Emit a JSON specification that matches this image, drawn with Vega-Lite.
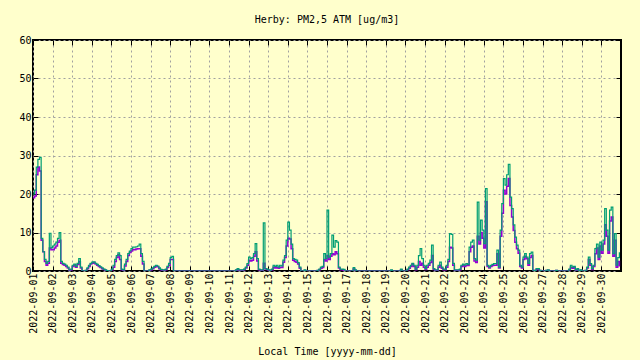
{
  "$schema": "https://vega.github.io/schema/vega-lite/v6.json",
  "width": 588,
  "height": 231,
  "autosize": "none",
  "padding": {"left": 33, "top": 40, "right": 19, "bottom": 89},
  "background": "#ffffcc",
  "config": {
    "font": "DejaVu Sans Mono",
    "view": {"stroke": "black", "strokeWidth": 2, "fill": "#ffffcc"},
    "axis": {
      "labelFont": "DejaVu Sans Mono", "labelFontSize": 10, "labelColor": "black",
      "titleFont": "DejaVu Sans Mono", "titleFontSize": 10, "titleFontWeight": "normal", "titleColor": "black",
      "domain": false, "tickColor": "black", "tickSize": -5, "tickWidth": 1,
      "gridColor": "#a0a0a0", "gridDash": [2, 3], "gridOpacity": 1, "gridWidth": 1
    }
  },
  "title": {"text": "Herby: PM2,5 ATM [ug/m3]", "fontSize": 10, "fontWeight": "normal", "color": "black", "font": "DejaVu Sans Mono", "anchor": "middle", "offset": 10},
  "data": {
    "format": {"parse": {"t": "utc:'%Y-%m-%d %H'"}},
    "values": [
{"t":"2022-09-01 00","a":19,"b":20},{"t":"2022-09-01 02","a":19.5,"b":21},{"t":"2022-09-01 04","a":25,"b":27},{"t":"2022-09-01 06","a":27,"b":29},{"t":"2022-09-01 08","a":26,"b":29.5},{"t":"2022-09-01 10","a":8,"b":8.5},{"t":"2022-09-01 12","a":5,"b":5},{"t":"2022-09-01 14","a":2.5,"b":3},{"t":"2022-09-01 16","a":1.5,"b":2},{"t":"2022-09-01 18","a":2,"b":2.5},{"t":"2022-09-01 20","a":6,"b":9.8},{"t":"2022-09-01 22","a":5.5,"b":6},
{"t":"2022-09-02 00","a":5.5,"b":6.5},{"t":"2022-09-02 02","a":6,"b":7},{"t":"2022-09-02 04","a":6.5,"b":7.5},{"t":"2022-09-02 06","a":7.5,"b":8.5},{"t":"2022-09-02 08","a":8,"b":10},{"t":"2022-09-02 10","a":2,"b":2.5},{"t":"2022-09-02 12","a":1.7,"b":2},{"t":"2022-09-02 14","a":1.5,"b":1.8},{"t":"2022-09-02 16","a":1.2,"b":1.5},{"t":"2022-09-02 18","a":0.8,"b":1},{"t":"2022-09-02 20","a":0.2,"b":0.3},{"t":"2022-09-02 22","a":0.3,"b":0.5},
{"t":"2022-09-03 00","a":1.2,"b":1.5},{"t":"2022-09-03 02","a":1.5,"b":1.8},{"t":"2022-09-03 04","a":1,"b":1.2},{"t":"2022-09-03 06","a":1.7,"b":2},{"t":"2022-09-03 08","a":2.5,"b":3.2},{"t":"2022-09-03 10","a":0.8,"b":1},{"t":"2022-09-03 12","a":0,"b":0},{"t":"2022-09-03 14","a":0,"b":0},{"t":"2022-09-03 16","a":0.1,"b":0.2},{"t":"2022-09-03 18","a":0.6,"b":0.8},{"t":"2022-09-03 20","a":1.2,"b":1.5},{"t":"2022-09-03 22","a":1.8,"b":2},
{"t":"2022-09-04 00","a":2,"b":2.3},{"t":"2022-09-04 02","a":2.2,"b":2.4},{"t":"2022-09-04 04","a":1.8,"b":2},{"t":"2022-09-04 06","a":1.5,"b":1.7},{"t":"2022-09-04 08","a":1.2,"b":1.4},{"t":"2022-09-04 10","a":0.9,"b":1.1},{"t":"2022-09-04 12","a":0.6,"b":0.8},{"t":"2022-09-04 14","a":0.4,"b":0.5},{"t":"2022-09-04 16","a":0.2,"b":0.3},{"t":"2022-09-04 18","a":0,"b":0.1},{"t":"2022-09-04 20","a":0,"b":0},{"t":"2022-09-04 22","a":0,"b":0},
{"t":"2022-09-05 00","a":0.3,"b":0.5},{"t":"2022-09-05 02","a":1,"b":1.5},{"t":"2022-09-05 04","a":2.5,"b":3},{"t":"2022-09-05 06","a":3.5,"b":4},{"t":"2022-09-05 08","a":4.2,"b":4.7},{"t":"2022-09-05 10","a":3,"b":4},{"t":"2022-09-05 12","a":0.3,"b":0.5},{"t":"2022-09-05 14","a":0.2,"b":0.3},{"t":"2022-09-05 16","a":1.3,"b":1.8},{"t":"2022-09-05 18","a":2.5,"b":3},{"t":"2022-09-05 20","a":4,"b":4.5},{"t":"2022-09-05 22","a":4.8,"b":5.2},
{"t":"2022-09-06 00","a":5.2,"b":5.8},{"t":"2022-09-06 02","a":5.6,"b":6.2},{"t":"2022-09-06 04","a":5.5,"b":6.2},{"t":"2022-09-06 06","a":5.7,"b":6.3},{"t":"2022-09-06 08","a":5.8,"b":6.5},{"t":"2022-09-06 10","a":5.8,"b":7},{"t":"2022-09-06 12","a":3.8,"b":4.5},{"t":"2022-09-06 14","a":1.8,"b":2.5},{"t":"2022-09-06 16","a":0,"b":0},{"t":"2022-09-06 18","a":0,"b":0},{"t":"2022-09-06 20","a":0,"b":0},{"t":"2022-09-06 22","a":0.2,"b":0.3},
{"t":"2022-09-07 00","a":0.3,"b":0.5},{"t":"2022-09-07 02","a":0.6,"b":0.8},{"t":"2022-09-07 04","a":1,"b":1.2},{"t":"2022-09-07 06","a":1.3,"b":1.5},{"t":"2022-09-07 08","a":1.1,"b":1.3},{"t":"2022-09-07 10","a":0.6,"b":0.8},{"t":"2022-09-07 12","a":0.3,"b":0.4},{"t":"2022-09-07 14","a":0.2,"b":0.3},{"t":"2022-09-07 16","a":0.2,"b":0.3},{"t":"2022-09-07 18","a":0.3,"b":0.5},{"t":"2022-09-07 20","a":0.9,"b":1.2},{"t":"2022-09-07 22","a":1.5,"b":2},
{"t":"2022-09-08 00","a":3,"b":3.5},{"t":"2022-09-08 02","a":3,"b":3.8},{"t":"2022-09-08 04","a":0,"b":0},{"t":"2022-09-08 06","a":0,"b":0},{"t":"2022-09-08 08","a":0,"b":0},{"t":"2022-09-08 10","a":0,"b":0},{"t":"2022-09-08 12","a":0,"b":0},{"t":"2022-09-08 14","a":0,"b":0},{"t":"2022-09-08 16","a":0,"b":0},{"t":"2022-09-08 18","a":0,"b":0},{"t":"2022-09-08 20","a":0,"b":0},{"t":"2022-09-08 22","a":0,"b":0},
{"t":"2022-09-09 00","a":0,"b":0},{"t":"2022-09-09 02","a":0,"b":0},{"t":"2022-09-09 04","a":0,"b":0},{"t":"2022-09-09 06","a":0,"b":0},{"t":"2022-09-09 08","a":0,"b":0},{"t":"2022-09-09 10","a":0,"b":0},{"t":"2022-09-09 12","a":0,"b":0},{"t":"2022-09-09 14","a":0,"b":0},{"t":"2022-09-09 16","a":0,"b":0},{"t":"2022-09-09 18","a":0,"b":0},{"t":"2022-09-09 20","a":0,"b":0},{"t":"2022-09-09 22","a":0,"b":0},
{"t":"2022-09-10 00","a":0,"b":0},{"t":"2022-09-10 02","a":0,"b":0},{"t":"2022-09-10 04","a":0,"b":0},{"t":"2022-09-10 06","a":0,"b":0},{"t":"2022-09-10 08","a":0,"b":0},{"t":"2022-09-10 10","a":0,"b":0},{"t":"2022-09-10 12","a":0,"b":0},{"t":"2022-09-10 14","a":0,"b":0},{"t":"2022-09-10 16","a":0,"b":0},{"t":"2022-09-10 18","a":0,"b":0},{"t":"2022-09-10 20","a":0,"b":0},{"t":"2022-09-10 22","a":0,"b":0},
{"t":"2022-09-11 00","a":0,"b":0},{"t":"2022-09-11 02","a":0,"b":0},{"t":"2022-09-11 04","a":0,"b":0},{"t":"2022-09-11 06","a":0,"b":0},{"t":"2022-09-11 08","a":0.2,"b":0.3},{"t":"2022-09-11 10","a":0.4,"b":0.6},{"t":"2022-09-11 12","a":0.2,"b":0.3},{"t":"2022-09-11 14","a":0.2,"b":0.3},{"t":"2022-09-11 16","a":0.2,"b":0.3},{"t":"2022-09-11 18","a":0.4,"b":0.5},{"t":"2022-09-11 20","a":0.8,"b":1},{"t":"2022-09-11 22","a":1.5,"b":1.9},
{"t":"2022-09-12 00","a":2.8,"b":3.6},{"t":"2022-09-12 02","a":2.6,"b":3.2},{"t":"2022-09-12 04","a":2.8,"b":3.5},{"t":"2022-09-12 06","a":3.8,"b":4.5},{"t":"2022-09-12 08","a":5,"b":7.1},{"t":"2022-09-12 10","a":2.6,"b":3.2},{"t":"2022-09-12 12","a":0.3,"b":0.5},{"t":"2022-09-12 14","a":0.2,"b":0.3},{"t":"2022-09-12 16","a":0.2,"b":0.3},{"t":"2022-09-12 18","a":2,"b":12.5},{"t":"2022-09-12 20","a":0.5,"b":0.6},{"t":"2022-09-12 22","a":0.4,"b":0.5},
{"t":"2022-09-13 00","a":0.2,"b":0.3},{"t":"2022-09-13 02","a":0.1,"b":0.2},{"t":"2022-09-13 04","a":0.3,"b":0.5},{"t":"2022-09-13 06","a":1,"b":1.5},{"t":"2022-09-13 08","a":0.8,"b":1.2},{"t":"2022-09-13 10","a":1,"b":1.5},{"t":"2022-09-13 12","a":0.7,"b":1},{"t":"2022-09-13 14","a":1,"b":1.5},{"t":"2022-09-13 16","a":0.9,"b":1.3},{"t":"2022-09-13 18","a":2.3,"b":2.8},{"t":"2022-09-13 20","a":3.5,"b":4},{"t":"2022-09-13 22","a":6.5,"b":8},
{"t":"2022-09-14 00","a":8.5,"b":12.7},{"t":"2022-09-14 02","a":8.3,"b":10.6},{"t":"2022-09-14 04","a":5.8,"b":7},{"t":"2022-09-14 06","a":2.8,"b":3.2},{"t":"2022-09-14 08","a":2.5,"b":3},{"t":"2022-09-14 10","a":2.3,"b":2.8},{"t":"2022-09-14 12","a":1.8,"b":2.2},{"t":"2022-09-14 14","a":0.7,"b":1},{"t":"2022-09-14 16","a":0,"b":0},{"t":"2022-09-14 18","a":0,"b":0},{"t":"2022-09-14 20","a":0.1,"b":0.3},{"t":"2022-09-14 22","a":0,"b":0},
{"t":"2022-09-15 00","a":0,"b":0},{"t":"2022-09-15 02","a":0,"b":0},{"t":"2022-09-15 04","a":0,"b":0},{"t":"2022-09-15 06","a":0,"b":0},{"t":"2022-09-15 08","a":0,"b":0},{"t":"2022-09-15 10","a":0,"b":0},{"t":"2022-09-15 12","a":0.1,"b":0.2},{"t":"2022-09-15 14","a":0.3,"b":0.5},{"t":"2022-09-15 16","a":0.7,"b":1},{"t":"2022-09-15 18","a":0.9,"b":1.2},{"t":"2022-09-15 20","a":3,"b":4.5},{"t":"2022-09-15 22","a":2.6,"b":3.2},
{"t":"2022-09-16 00","a":4,"b":15.8},{"t":"2022-09-16 02","a":3,"b":3.6},{"t":"2022-09-16 04","a":3.8,"b":4.5},{"t":"2022-09-16 06","a":4.5,"b":9.3},{"t":"2022-09-16 08","a":4.2,"b":6.2},{"t":"2022-09-16 10","a":5,"b":7.9},{"t":"2022-09-16 12","a":4.5,"b":7.5},{"t":"2022-09-16 14","a":0.8,"b":1},{"t":"2022-09-16 16","a":0.3,"b":0.5},{"t":"2022-09-16 18","a":0.3,"b":0.5},{"t":"2022-09-16 20","a":0.2,"b":0.4},{"t":"2022-09-16 22","a":0,"b":0},
{"t":"2022-09-17 00","a":0,"b":0},{"t":"2022-09-17 02","a":0,"b":0},{"t":"2022-09-17 04","a":0,"b":0},{"t":"2022-09-17 06","a":0,"b":0},{"t":"2022-09-17 08","a":0.5,"b":0.9},{"t":"2022-09-17 10","a":0.1,"b":0.3},{"t":"2022-09-17 12","a":0,"b":0},{"t":"2022-09-17 14","a":0,"b":0},{"t":"2022-09-17 16","a":0,"b":0},{"t":"2022-09-17 18","a":0,"b":0},{"t":"2022-09-17 20","a":0,"b":0},{"t":"2022-09-17 22","a":0,"b":0},
{"t":"2022-09-18 00","a":0,"b":0},{"t":"2022-09-18 02","a":0,"b":0},{"t":"2022-09-18 04","a":0,"b":0},{"t":"2022-09-18 06","a":0,"b":0},{"t":"2022-09-18 08","a":0,"b":0},{"t":"2022-09-18 10","a":0,"b":0},{"t":"2022-09-18 12","a":0,"b":0},{"t":"2022-09-18 14","a":0,"b":0},{"t":"2022-09-18 16","a":0,"b":0},{"t":"2022-09-18 18","a":0,"b":0},{"t":"2022-09-18 20","a":0,"b":0},{"t":"2022-09-18 22","a":0,"b":0},
{"t":"2022-09-19 00","a":0,"b":0},{"t":"2022-09-19 02","a":0,"b":0},{"t":"2022-09-19 04","a":0,"b":0},{"t":"2022-09-19 06","a":0.1,"b":0.3},{"t":"2022-09-19 08","a":0,"b":0},{"t":"2022-09-19 10","a":0,"b":0},{"t":"2022-09-19 12","a":0,"b":0},{"t":"2022-09-19 14","a":0,"b":0},{"t":"2022-09-19 16","a":0,"b":0},{"t":"2022-09-19 18","a":0.3,"b":0.5},{"t":"2022-09-19 20","a":0,"b":0},{"t":"2022-09-19 22","a":0,"b":0},
{"t":"2022-09-20 00","a":0,"b":0},{"t":"2022-09-20 02","a":0.3,"b":0.5},{"t":"2022-09-20 04","a":0.7,"b":1},{"t":"2022-09-20 06","a":1.2,"b":1.5},{"t":"2022-09-20 08","a":1.8,"b":2},{"t":"2022-09-20 10","a":1.2,"b":1.5},{"t":"2022-09-20 12","a":0.3,"b":0.5},{"t":"2022-09-20 14","a":1,"b":1.5},{"t":"2022-09-20 16","a":2.5,"b":4},{"t":"2022-09-20 18","a":1.5,"b":5.8},{"t":"2022-09-20 20","a":2,"b":3.2},{"t":"2022-09-20 22","a":1,"b":1.5},
{"t":"2022-09-21 00","a":0.4,"b":0.6},{"t":"2022-09-21 02","a":1,"b":1.5},{"t":"2022-09-21 04","a":1.5,"b":2},{"t":"2022-09-21 06","a":2.2,"b":2.8},{"t":"2022-09-21 08","a":4,"b":6.7},{"t":"2022-09-21 10","a":0.4,"b":0.6},{"t":"2022-09-21 12","a":0.2,"b":0.3},{"t":"2022-09-21 14","a":0.2,"b":0.3},{"t":"2022-09-21 16","a":1,"b":1.5},{"t":"2022-09-21 18","a":1.5,"b":2.3},{"t":"2022-09-21 20","a":0.7,"b":1},{"t":"2022-09-21 22","a":0.3,"b":0.5},
{"t":"2022-09-22 00","a":0.3,"b":0.5},{"t":"2022-09-22 02","a":1,"b":1.5},{"t":"2022-09-22 04","a":2.5,"b":3},{"t":"2022-09-22 06","a":6.2,"b":9.7},{"t":"2022-09-22 08","a":6,"b":9.5},{"t":"2022-09-22 10","a":1.5,"b":2},{"t":"2022-09-22 12","a":0.2,"b":0.3},{"t":"2022-09-22 14","a":0.2,"b":0.3},{"t":"2022-09-22 16","a":0.2,"b":0.3},{"t":"2022-09-22 18","a":0.3,"b":0.5},{"t":"2022-09-22 20","a":1.2,"b":1.5},{"t":"2022-09-22 22","a":1.5,"b":1.8},
{"t":"2022-09-23 00","a":1.2,"b":1.5},{"t":"2022-09-23 02","a":1.5,"b":1.9},{"t":"2022-09-23 04","a":1.4,"b":1.7},{"t":"2022-09-23 06","a":5,"b":6.2},{"t":"2022-09-23 08","a":6.2,"b":7.5},{"t":"2022-09-23 10","a":6.5,"b":8},{"t":"2022-09-23 12","a":2.6,"b":3.2},{"t":"2022-09-23 14","a":2.2,"b":2.8},{"t":"2022-09-23 16","a":9,"b":17.9},{"t":"2022-09-23 18","a":7,"b":8},{"t":"2022-09-23 20","a":10,"b":13.2},{"t":"2022-09-23 22","a":8.5,"b":10.6},
{"t":"2022-09-24 00","a":6,"b":7.1},{"t":"2022-09-24 02","a":18,"b":21.4},{"t":"2022-09-24 04","a":1.2,"b":1.5},{"t":"2022-09-24 06","a":0.8,"b":1},{"t":"2022-09-24 08","a":1.2,"b":1.5},{"t":"2022-09-24 10","a":1.4,"b":1.7},{"t":"2022-09-24 12","a":1.5,"b":1.9},{"t":"2022-09-24 14","a":1.5,"b":1.9},{"t":"2022-09-24 16","a":4.5,"b":5.4},{"t":"2022-09-24 18","a":0.8,"b":1},{"t":"2022-09-24 20","a":9,"b":10.6},{"t":"2022-09-24 22","a":15,"b":17.5},
{"t":"2022-09-25 00","a":21,"b":24},{"t":"2022-09-25 02","a":20,"b":22.3},{"t":"2022-09-25 04","a":22,"b":25},{"t":"2022-09-25 06","a":24,"b":27.7},{"t":"2022-09-25 08","a":17,"b":19.2},{"t":"2022-09-25 10","a":14,"b":16.2},{"t":"2022-09-25 12","a":10.5,"b":12},{"t":"2022-09-25 14","a":7.5,"b":8.8},{"t":"2022-09-25 16","a":5.8,"b":6.7},{"t":"2022-09-25 18","a":4.6,"b":5.4},{"t":"2022-09-25 20","a":1.2,"b":1.5},{"t":"2022-09-25 22","a":0.8,"b":1},
{"t":"2022-09-26 00","a":3,"b":3.6},{"t":"2022-09-26 02","a":3.8,"b":4.5},{"t":"2022-09-26 04","a":3.2,"b":3.6},{"t":"2022-09-26 06","a":1.5,"b":2},{"t":"2022-09-26 08","a":3.5,"b":4.5},{"t":"2022-09-26 10","a":4,"b":4.9},{"t":"2022-09-26 12","a":0.1,"b":0.2},{"t":"2022-09-26 14","a":0,"b":0.1},{"t":"2022-09-26 16","a":0.4,"b":0.6},{"t":"2022-09-26 18","a":0.4,"b":0.6},{"t":"2022-09-26 20","a":0.1,"b":0.2},{"t":"2022-09-26 22","a":0,"b":0},
{"t":"2022-09-27 00","a":0,"b":0},{"t":"2022-09-27 02","a":0,"b":0},{"t":"2022-09-27 04","a":0.1,"b":0.2},{"t":"2022-09-27 06","a":0.2,"b":0.3},{"t":"2022-09-27 08","a":0,"b":0},{"t":"2022-09-27 10","a":0,"b":0},{"t":"2022-09-27 12","a":0,"b":0},{"t":"2022-09-27 14","a":0,"b":0},{"t":"2022-09-27 16","a":0.1,"b":0.2},{"t":"2022-09-27 18","a":0,"b":0},{"t":"2022-09-27 20","a":0,"b":0},{"t":"2022-09-27 22","a":0,"b":0},
{"t":"2022-09-28 00","a":0,"b":0},{"t":"2022-09-28 02","a":0,"b":0},{"t":"2022-09-28 04","a":0,"b":0},{"t":"2022-09-28 06","a":0,"b":0},{"t":"2022-09-28 08","a":0.3,"b":0.5},{"t":"2022-09-28 10","a":1,"b":1.5},{"t":"2022-09-28 12","a":0.7,"b":1},{"t":"2022-09-28 14","a":0.9,"b":1.2},{"t":"2022-09-28 16","a":0.2,"b":0.3},{"t":"2022-09-28 18","a":0.4,"b":0.6},{"t":"2022-09-28 20","a":0,"b":0},{"t":"2022-09-28 22","a":0.2,"b":0.3},
{"t":"2022-09-29 00","a":0,"b":0},{"t":"2022-09-29 02","a":0,"b":0},{"t":"2022-09-29 04","a":0.1,"b":0.2},{"t":"2022-09-29 06","a":0.8,"b":1},{"t":"2022-09-29 08","a":3,"b":3.6},{"t":"2022-09-29 10","a":1.5,"b":1.9},{"t":"2022-09-29 12","a":0.4,"b":0.6},{"t":"2022-09-29 14","a":1.2,"b":1.5},{"t":"2022-09-29 16","a":4.5,"b":5.8},{"t":"2022-09-29 18","a":6,"b":7},{"t":"2022-09-29 20","a":3,"b":3.6},{"t":"2022-09-29 22","a":6.5,"b":7.5},
{"t":"2022-09-30 00","a":4.6,"b":5.4},{"t":"2022-09-30 02","a":7,"b":8},{"t":"2022-09-30 04","a":12,"b":16.2},{"t":"2022-09-30 06","a":9,"b":10.6},{"t":"2022-09-30 08","a":4.6,"b":5.4},{"t":"2022-09-30 10","a":13,"b":15.8},{"t":"2022-09-30 12","a":14,"b":16.6},{"t":"2022-09-30 14","a":3.8,"b":4.5},{"t":"2022-09-30 16","a":8,"b":9.7},{"t":"2022-09-30 18","a":1,"b":1.5},{"t":"2022-09-30 20","a":2.5,"b":3.5},{"t":"2022-09-30 22","a":1.2,"b":4.9}
    ]
  },
  "layer": [
    {
      "mark": {"type": "line", "color": "#9400d3", "strokeWidth": 1.5, "interpolate": "step-after", "clip": true},
      "encoding": {
        "x": {"field": "t", "type": "temporal",
          "scale": {"type": "utc", "domain": [{"year": 2022, "month": 9, "date": 1, "utc": true}, {"year": 2022, "month": 9, "date": 30, "hours": 23, "minutes": 59, "utc": true}]},
          "axis": {"orient": "bottom", "title": "Local Time [yyyy-mm-dd]", "labelExpr": "utcFormat(datum.value, '%Y-%m-%d')", "labelAngle": -90, "tickCount": {"interval": "day", "step": 1}, "labelPadding": 7, "titlePadding": 13, "grid": true, "labelOverlap": false, "labelFlush": false}},
        "y": {"field": "a", "type": "quantitative",
          "scale": {"domain": [0, 60], "nice": false},
          "axis": {"orient": "left", "title": null, "values": [0, 10, 20, 30, 40, 50, 60], "labelPadding": 7, "grid": true, "labelFlush": false}}
      }
    },
    {
      "mark": {"type": "line", "color": "#009e73", "strokeWidth": 1.2, "interpolate": "step-after", "clip": true},
      "encoding": {
        "x": {"field": "t", "type": "temporal",
          "scale": {"type": "utc", "domain": [{"year": 2022, "month": 9, "date": 1, "utc": true}, {"year": 2022, "month": 9, "date": 30, "hours": 23, "minutes": 59, "utc": true}]},
          "axis": {"orient": "top", "title": null, "labels": false, "tickCount": {"interval": "day", "step": 1}, "grid": false}},
        "y": {"field": "b", "type": "quantitative",
          "scale": {"domain": [0, 60], "nice": false},
          "axis": {"orient": "right", "title": null, "labels": false, "values": [0, 10, 20, 30, 40, 50, 60], "grid": false}}
      }
    }
  ],
  "resolve": {"axis": {"x": "independent", "y": "independent"}}
}
